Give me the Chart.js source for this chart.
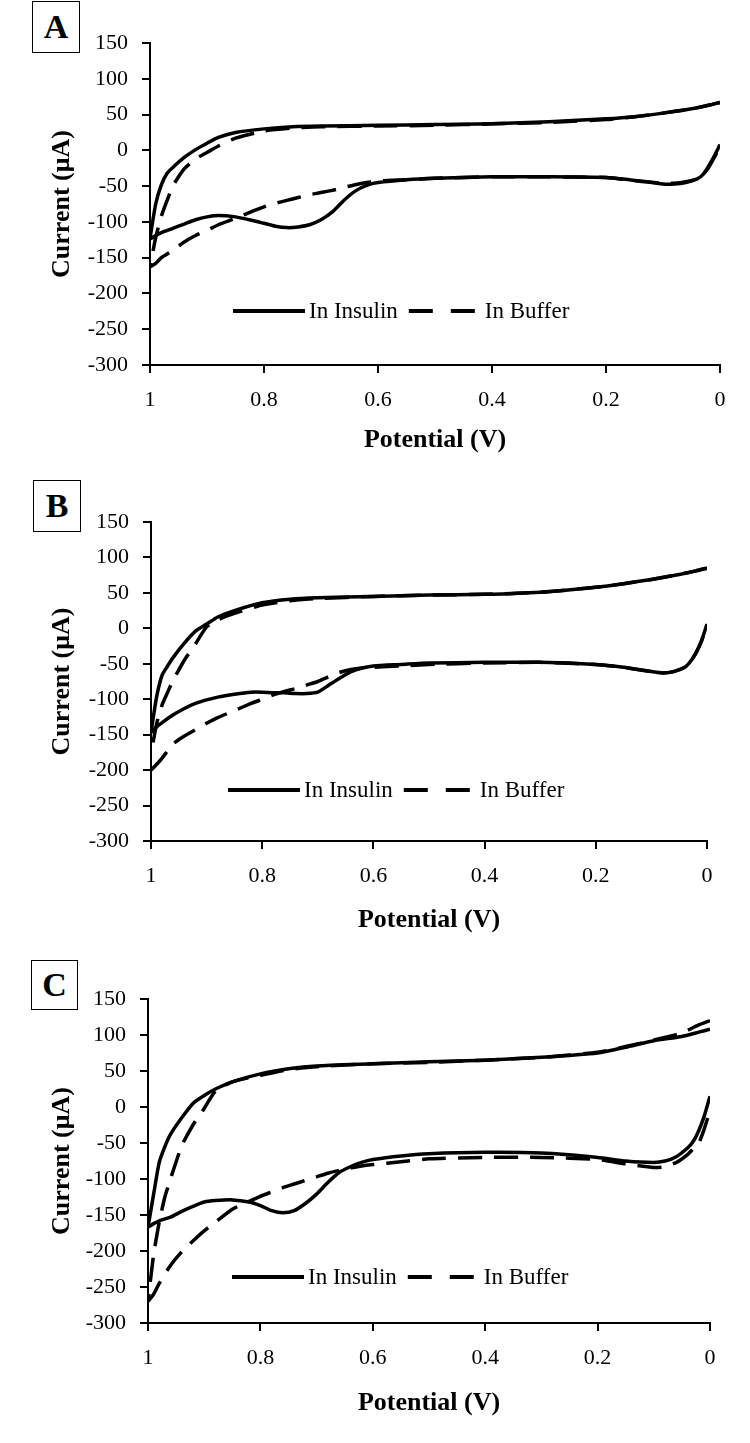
<!DOCTYPE html>
<html>
<head>
<meta charset="utf-8">
<title>Cyclic voltammograms</title>
<script src="https://cdn.jsdelivr.net/npm/chart.js@4.4.0/dist/chart.umd.min.js"></script>
<style>
  html, body { margin: 0; padding: 0; background: #fff; }
  body { width: 750px; height: 1443px; position: relative; overflow: hidden; }
  .panel { position: absolute; left: 0; width: 750px; }
  .tag {
    position: absolute; box-sizing: border-box; border: 1.5px solid #000;
    font: bold 34px "Liberation Serif", "Times New Roman", serif;
    text-align: center; color: #000; background: #fff;
  }
</style>
</head>
<body>
<div class="tag" style="left:32px;top:1px;width:48px;height:52px;line-height:50px;">A</div>
<div class="tag" style="left:33px;top:480px;width:48px;height:52px;line-height:50px;">B</div>
<div class="tag" style="left:31px;top:960px;width:47px;height:50px;line-height:48px;">C</div>

<div class="panel" style="top:0;height:480px;"><canvas id="chartA" width="750" height="480"></canvas></div>
<div class="panel" style="top:480px;height:480px;"><canvas id="chartB" width="750" height="480"></canvas></div>
<div class="panel" style="top:960px;height:483px;"><canvas id="chartC" width="750" height="483"></canvas></div>

<script>
// potential (V) sampled along the two halves of the sweep
const sweepFwd = [0, 0.02, 0.05, 0.1, 0.15, 0.2, 0.3, 0.4, 0.5, 0.6, 0.7, 0.75, 0.8, 0.85, 0.88, 0.9, 0.92, 0.94, 0.96, 0.97, 0.98, 0.99, 1];
const sweepRev = [1, 0.99, 0.98, 0.96, 0.94, 0.92, 0.9, 0.88, 0.85, 0.82, 0.8, 0.78, 0.76, 0.74, 0.72, 0.7, 0.68, 0.66, 0.64, 0.62, 0.6, 0.55, 0.5, 0.4, 0.3, 0.2, 0.15, 0.1, 0.08, 0.06, 0.04, 0.03, 0.02, 0.01, 0];

// current (uA) - panel A
const insulinA_fwd = [67, 63, 58, 52, 47, 44, 40, 37, 36, 35, 34, 33, 30, 25, 18, 10, 1, -10, -24, -32, -48, -75, -123];
const insulinA_rev = [-124, -119, -115, -109, -103, -97, -93, -91, -93, -98, -102, -106, -108, -107, -104, -97, -86, -70, -57, -49, -45, -41, -39, -37, -37, -38, -42, -47, -47, -45, -40, -34, -22, -8, 8];
const bufferA_fwd = [67, 63, 58, 52, 47, 43, 39, 37, 35, 34, 33, 31, 27, 17, 6, -3, -12, -26, -50, -70, -92, -122, -163];
const bufferA_rev = [-163, -158, -150, -140, -128, -119, -112, -104, -95, -85, -79, -74, -70, -66, -62, -59, -56, -52, -48, -45, -43, -41, -39, -37, -37, -38, -42, -46, -46, -44, -40, -34, -24, -10, 5];

// panel B
const insulinB_fwd = [85, 81, 76, 69, 63, 58, 51, 48, 47, 45, 43, 41, 36, 25, 16, 6, -4, -21, -41, -53, -66, -97, -147];
const insulinB_rev = [-147, -139, -133, -122, -113, -106, -101, -97, -93, -90, -90, -91, -91, -92, -92, -90, -80, -70, -61, -56, -53, -51, -49, -48, -48, -51, -55, -61, -63, -61, -55, -47, -35, -18, 6];
const bufferB_fwd = [85, 81, 76, 69, 63, 58, 51, 48, 47, 45, 42, 39, 33, 21, 12, 2, -22, -45, -73, -90, -108, -135, -177];
const bufferB_rev = [-200, -192, -183, -163, -152, -143, -134, -126, -116, -106, -100, -94, -89, -85, -80, -75, -68, -62, -58, -56, -55, -53, -51, -49, -48, -51, -55, -61, -63, -61, -55, -47, -35, -18, 4];

// panel C
const insulinC_fwd = [108, 104, 98, 92, 83, 75, 69, 65, 63, 60, 57, 53, 46, 35, 25, 16, 5, -15, -38, -55, -77, -121, -167];
const insulinC_rev = [-167, -162, -158, -153, -145, -138, -132, -130, -129, -132, -137, -144, -147, -144, -134, -121, -105, -91, -83, -77, -73, -68, -65, -63, -64, -70, -75, -77, -75, -69, -57, -48, -33, -12, 15];
const bufferC_fwd = [120, 114, 103, 93, 84, 76, 69, 65, 62, 60, 56, 52, 44, 35, 22, -2, -25, -54, -100, -125, -160, -205, -270];
const bufferC_rev = [-270, -260, -245, -220, -201, -186, -172, -160, -142, -131, -124, -118, -112, -107, -102, -97, -92, -88, -85, -82, -80, -76, -72, -70, -70, -73, -79, -84, -83, -77, -66, -58, -50, -30, -5];

const legendLabels = ['In Insulin', 'In Buffer'];
const xTicksStep = 0.2;
const yRange = [-300, 150];

const FONT = '"Liberation Serif", "Times New Roman", serif';

function pairs(xs, ys) {
    return xs.map((x, i) => ({ x, y: ys[i] }));
}

// legend drawn inside the plot, like the original figure
const inlineLegend = {
    id: 'inlineLegend',
    afterDatasetsDraw(chart, args, opts) {
        const ctx = chart.ctx;
        ctx.save();
        ctx.font = '23px ' + FONT;
        ctx.fillStyle = '#000';
        ctx.strokeStyle = '#000';
        ctx.lineWidth = 4;
        ctx.textBaseline = 'middle';
        let x = opts.x;
        const y = opts.y;
        // solid sample
        ctx.setLineDash([]);
        ctx.beginPath(); ctx.moveTo(x, y); ctx.lineTo(x + 72, y); ctx.stroke();
        x += 76;
        ctx.fillText(legendLabels[0], x, y + 1);
        x += ctx.measureText(legendLabels[0]).width + 11;
        // dashed sample
        ctx.setLineDash([24, 18]);
        ctx.beginPath(); ctx.moveTo(x, y); ctx.lineTo(x + 66, y); ctx.stroke();
        ctx.setLineDash([]);
        x += 76;
        ctx.fillText(legendLabels[1], x, y + 1);
        ctx.restore();
    }
};

function makeChart(id, height, area, legendPos, series) {
    const solid = { borderColor: '#000', borderWidth: 3.5, pointRadius: 0, showLine: true, tension: 0.2, fill: false };
    const dashed = Object.assign({}, solid, { borderDash: [24, 12] });
    return new Chart(document.getElementById(id), {
        type: 'scatter',
        data: {
            datasets: [
                Object.assign({ label: 'buffer-fwd', data: pairs(sweepFwd, series.bufFwd) }, dashed),
                Object.assign({ label: 'buffer-rev', data: pairs(sweepRev, series.bufRev) }, dashed),
                Object.assign({ label: 'insulin-fwd', data: pairs(sweepFwd, series.insFwd) }, solid),
                Object.assign({ label: 'insulin-rev', data: pairs(sweepRev, series.insRev) }, solid)
            ]
        },
        options: {
            responsive: false,
            animation: false,
            devicePixelRatio: 1,
            layout: { padding: { left: 0, top: area.top, right: 750 - area.right, bottom: 0 } },
            plugins: {
                legend: { display: false },
                tooltip: { enabled: false },
                inlineLegend: legendPos
            },
            scales: {
                x: {
                    type: 'linear',
                    min: 0, max: 1, reverse: true,
                    afterFit: s => { s.height = height - area.bottom; },
                    ticks: {
                        stepSize: xTicksStep, color: '#000', padding: 14,
                        font: { family: FONT, size: 22 },
                        callback: v => String(Number(v.toFixed(1)))
                    },
                    grid: { drawOnChartArea: false, color: '#000', lineWidth: 2, tickLength: 8 },
                    border: { color: '#000', width: 2 },
                    title: { display: true, text: 'Potential (V)', color: '#000', padding: { top: 0, bottom: 24 }, font: { family: FONT, size: 26, weight: 'bold' } }
                },
                y: {
                    min: yRange[0], max: yRange[1],
                    afterFit: s => { s.width = area.left; },
                    ticks: { stepSize: 50, color: '#000', padding: 14, font: { family: FONT, size: 22 } },
                    grid: { drawOnChartArea: false, color: '#000', lineWidth: 2, tickLength: 8 },
                    border: { color: '#000', width: 2 },
                    title: { display: true, text: 'Current (μA)', color: '#000', padding: { top: 47, bottom: 0 }, font: { family: FONT, size: 26, weight: 'bold' } }
                }
            }
        },
        plugins: [inlineLegend]
    });
}

makeChart('chartA', 480, { left: 150, right: 720, top: 43, bottom: 365 }, { x: 233, y: 311 },
    { insFwd: insulinA_fwd, insRev: insulinA_rev, bufFwd: bufferA_fwd, bufRev: bufferA_rev });
makeChart('chartB', 480, { left: 151, right: 707, top: 42, bottom: 361 }, { x: 228, y: 310 },
    { insFwd: insulinB_fwd, insRev: insulinB_rev, bufFwd: bufferB_fwd, bufRev: bufferB_rev });
makeChart('chartC', 483, { left: 148, right: 710, top: 39, bottom: 363 }, { x: 232, y: 317 },
    { insFwd: insulinC_fwd, insRev: insulinC_rev, bufFwd: bufferC_fwd, bufRev: bufferC_rev });
</script>
</body>
</html>
